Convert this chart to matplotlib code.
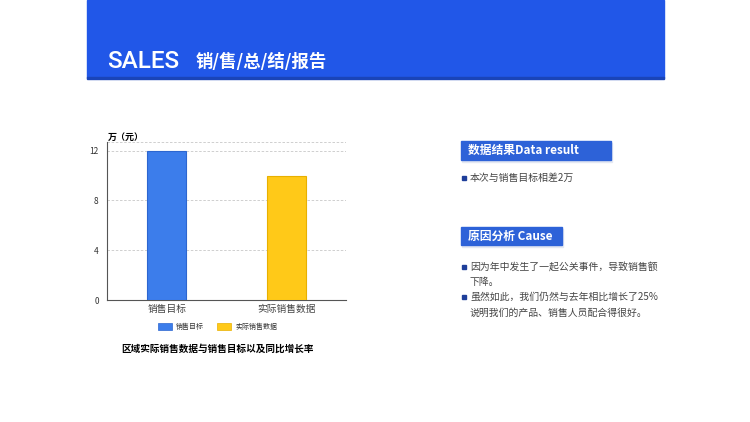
import matplotlib.pyplot as plt
from matplotlib.patches import Rectangle

plt.rcParams['font.family'] = ['Noto Sans CJK SC', 'DejaVu Sans']

categories = ['销售目标', '实际销售数据']
values = [12, 10]
bar_colors = ['#3C7DEB', '#FFC918']
edge_colors = ['#2C66D0', '#E8B000']
yticks = [0, 4, 8, 12]

W, H = 750, 422
fig = plt.figure(figsize=(7.5, 4.22), dpi=100)
fig.patch.set_facecolor('white')

# page-level overlay in pixel coords (top-left origin)
bg = fig.add_axes([0, 0, 1, 1])
bg.set_xlim(0, W)
bg.set_ylim(H, 0)
bg.axis('off')

# header band
bg.add_patch(Rectangle((87, 0), 577, 78, color='#2157E8', zorder=1))
bg.add_patch(Rectangle((87, 77), 577, 1.5, color='#1A44B8', zorder=2))
bg.text(107, 62, 'SALES', color='white', fontsize=17.5, fontweight='medium',
        family=['Roboto', 'DejaVu Sans'], va='center', ha='left')
bg.text(196, 62, '销/售/总/结/报告', color='white', fontsize=12.5,
        fontweight='bold', va='center', ha='left')

# chart
ax = fig.add_axes([107 / W, 1 - 300 / H, 239 / W, 158 / H])
x = range(len(categories))
ax.bar(x, values, width=0.33, color=bar_colors, edgecolor=edge_colors,
       linewidth=0.8, zorder=3)
ax.set_xlim(-0.5, 1.5)
ax.set_ylim(0, 12.7)
ax.set_yticks(yticks)
ax.set_yticklabels([str(t) for t in yticks], fontsize=6, color='#333333')
ax.set_xticks(list(x))
ax.set_xticklabels(categories, fontsize=7, color='#444444')
ax.tick_params(length=0, pad=6)
ax.tick_params(axis='x', pad=3)
ax.grid(axis='y', linestyle=(0, (3, 2)), color='#C8C8C8', linewidth=0.6, zorder=0)
ax.axhline(12.7, linestyle=(0, (3, 2)), color='#C8C8C8', linewidth=0.6, zorder=0)
for s in ['top', 'right']:
    ax.spines[s].set_visible(False)
ax.spines['left'].set_color('#555555')
ax.spines['bottom'].set_color('#555555')
ax.spines['left'].set_linewidth(0.8)
ax.spines['bottom'].set_linewidth(0.8)

bg.text(108, 137, '万（元）', fontsize=6.5, fontweight='bold', va='center', ha='left')

# legend
for i, (c, e, name) in enumerate(zip(bar_colors, edge_colors, categories)):
    x0 = [158, 217][i]
    bg.add_patch(Rectangle((x0, 323), 14, 7, facecolor=c, edgecolor=e, linewidth=0.5))
    bg.text(x0 + 18, 327, name, fontsize=5, va='center', ha='left', color='#333333')

bg.text(218, 349, '区域实际销售数据与销售目标以及同比增长率', fontsize=6.9,
        fontweight='bold', va='center', ha='center')

# right side boxes
def tag(x0, y0, w, h, label):
    bg.add_patch(Rectangle((x0 + 1, y0 + 2), w, h, color='#E4E8F2', zorder=1))
    bg.add_patch(Rectangle((x0, y0), w, h, color='#2D62D8', zorder=2))
    bg.text(x0 + 7, y0 + h / 2, label, color='white', fontsize=8.5,
            fontweight='bold', va='center', ha='left', zorder=3)

def bullet(y, text):
    bg.add_patch(Rectangle((462, y - 2), 4, 4, color='#1E3E9A'))
    bg.text(470, y, text, fontsize=7.1, va='center', ha='left', color='#444444')

tag(461, 141, 150, 19, '数据结果Data result')
bullet(178, '本次与销售目标相差2万')

tag(461, 227, 101, 18, '原因分析 Cause')
bullet(267, '因为年中发生了一起公关事件，导致销售额')
bg.text(470, 282, '下降。', fontsize=7.1, va='center', ha='left', color='#444444')
bullet(297, '虽然如此，我们仍然与去年相比增长了25%')
bg.text(470, 313, '说明我们的产品、销售人员配合得很好。', fontsize=7.1,
        va='center', ha='left', color='#444444')

fig.savefig('out.png', dpi=100)
